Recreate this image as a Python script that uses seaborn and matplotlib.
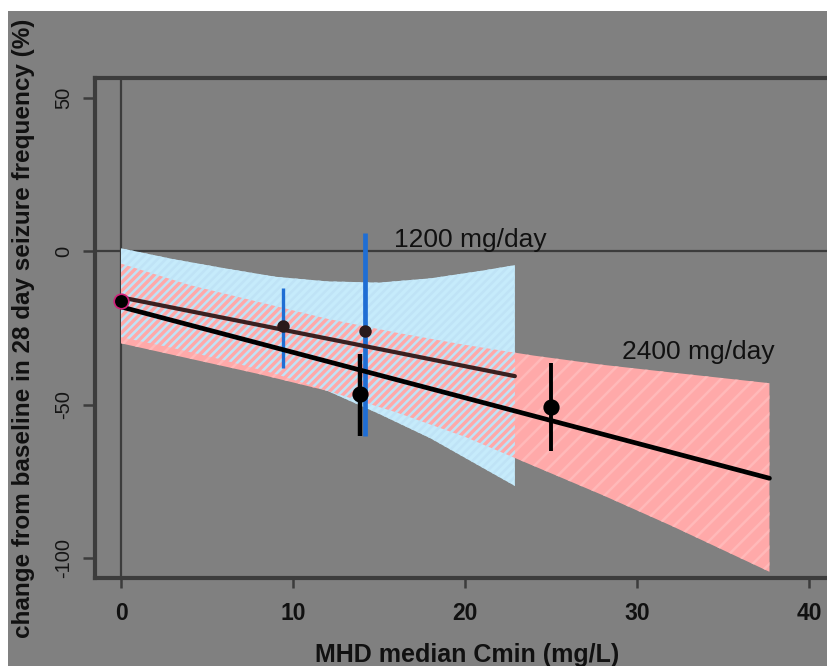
import numpy as np
import pandas as pd
import matplotlib
matplotlib.use("Agg")
import matplotlib.pyplot as plt
from matplotlib.patches import Rectangle
import seaborn as sns

# ---------------- data ----------------
# confidence bands
band1200_x = [0, 3, 6, 9, 12, 15, 18, 21, 22.9]
band1200_hi = [1, -2.5, -5.5, -8.3, -9.8, -10.2, -8.8, -6.3, -4.5]
band1200_lo = [-28, -31.5, -35.5, -40, -45.5, -53, -61, -70.5, -76.5]

band2400_x = [0, 4, 8, 12, 16, 20, 24, 28, 32, 37.7]
band2400_hi = [-4, -11, -16.5, -22, -26.5, -30.5, -34, -37, -39.5, -43]
band2400_lo = [-30, -35, -40, -45.5, -52.5, -60.5, -70, -79.5, -89.5, -104.5]

# fitted lines
line_group = ["1200 mg/day", "1200 mg/day", "2400 mg/day", "2400 mg/day"]
line_x = [0, 22.9, 0, 37.7]
line_y = [-15, -40.7, -18.1, -74]

# observed points with error bars
pt_group = ["placebo", "1200 mg/day", "1200 mg/day", "2400 mg/day", "2400 mg/day"]
pt_x = [0, 9.4, 14.2, 13.9, 25.0]
pt_y = [-16.3, -24.4, -26.0, -46.6, -50.6]
pt_lo = [np.nan, -38, -60.3, -60.3, -65]
pt_hi = [np.nan, -12, 5.9, -33.5, -36.5]

x_ticks = [0, 10, 20, 30, 40]
y_ticks = [50, 0, -50, -100]
labels = ["1200 mg/day", "2400 mg/day"]
label_x = [15.9, 29.1]
label_y = [3.7, -32.8]

# ---------------- style ----------------
GRAY = "#808080"
DARK = "#3c3c3c"
sns.set_theme(style="white", rc={"axes.facecolor": GRAY, "figure.facecolor": "white"})
plt.rcParams["font.family"] = ["Liberation Sans", "DejaVu Sans"]
plt.rcParams["hatch.linewidth"] = 1.8

W, H = 827, 666
fig = plt.figure(figsize=(W / 100, H / 100), dpi=100)
fig.patches.append(Rectangle((8 / W, 0), 1, 1 - 11 / H, transform=fig.transFigure,
                             facecolor=GRAY, edgecolor="none", zorder=-10))

ax_l, ax_r, ax_t, ax_b = 95, 840, 78, 578
ax = fig.add_axes([ax_l / W, 1 - ax_b / H, (ax_r - ax_l) / W, (ax_b - ax_t) / H])
ax.set_facecolor(GRAY)

# bands
BLUE_BAND = "#c6ebfb"
PINK_BAND = "#ffa9a9"
ax.fill_between(band1200_x, band1200_lo, band1200_hi, facecolor=BLUE_BAND,
                edgecolor="none", linewidth=0, zorder=1)
ax.fill_between(band2400_x, band2400_lo, band2400_hi, facecolor=PINK_BAND,
                edgecolor="#ffb9b9", hatch="//", linewidth=0, zorder=2)
ax.fill_between(band1200_x, band1200_lo, band1200_hi, facecolor="none",
                edgecolor="#bfe3f6", hatch="////", linewidth=0, zorder=3)

# reference lines
ax.axvline(0, color=DARK, lw=1.6, zorder=0.5)
ax.axhline(0, color=DARK, lw=1.6, zorder=0.5)

# fitted lines
df_lines = pd.DataFrame({"group": line_group, "x": line_x, "y": line_y})
sns.lineplot(data=df_lines, x="x", y="y", hue="group",
             palette={"1200 mg/day": "#3a2020", "2400 mg/day": "black"},
             linewidth=2.8, legend=False, ax=ax, zorder=5, estimator=None, sort=False)
for ln, w in zip(ax.get_lines()[-2:], [3.0, 3.4]):
    ln.set_linewidth(w)

# error bars
df_pts = pd.DataFrame({"group": pt_group, "x": pt_x, "y": pt_y, "lo": pt_lo, "hi": pt_hi})
bar_col = {"placebo": "black", "1200 mg/day": "#1f6ed4", "2400 mg/day": "black"}
bar_w = [0, 2.4, 3.4, 3.2, 2.8]
for i, r in df_pts.iterrows():
    if np.isnan(r["lo"]):
        continue
    ax.vlines(r["x"], r["lo"], r["hi"], color=bar_col[r["group"]], lw=bar_w[i],
              zorder=6 if r["group"] != "1200 mg/day" else 4)

# points
pt_face = {"placebo": "black", "1200 mg/day": "#2a1a1a", "2400 mg/day": "black"}
pt_edge = {"placebo": "#d0207a", "1200 mg/day": "#2a1a1a", "2400 mg/day": "black"}
pt_size = {"placebo": 110, "1200 mg/day": 60, "2400 mg/day": 110}
for g in ["placebo", "1200 mg/day", "2400 mg/day"]:
    sub = df_pts[df_pts["group"] == g]
    sns.scatterplot(data=sub, x="x", y="y", color=pt_face[g], edgecolor=pt_edge[g],
                    linewidth=1.2, s=pt_size[g], ax=ax, zorder=7, legend=False)

# text labels
for t, tx, ty in zip(labels, label_x, label_y):
    ax.text(tx, ty, t, fontsize=19, color="#111111", ha="left", va="center", zorder=8)

# axes
px_per_x = 17.2
px_per_y = 460 / 150
y0_px = 98 + 50 * px_per_y
ax.set_xlim((ax_l - 121) / px_per_x, (ax_r - 121) / px_per_x)
ax.set_ylim(-(ax_b - y0_px) / px_per_y, (y0_px - ax_t) / px_per_y)
ax.set_xticks(x_ticks)
ax.set_yticks(y_ticks)
ax.set_xticklabels([str(v) for v in x_ticks], fontsize=16.5, fontweight="bold", color="#111111")
ax.set_yticklabels([str(v) for v in y_ticks], fontsize=14.5, color="#151515",
                   rotation=90, va="center")
ax.tick_params(axis="x", direction="out", length=7, width=1.8, color=DARK, pad=10, bottom=True)
ax.tick_params(axis="y", direction="out", length=8.5, width=1.8, color=DARK, pad=7, left=True)
for s in ax.spines.values():
    s.set_color(DARK)
    s.set_linewidth(3)
    s.set_visible(True)

ax.set_xlabel("MHD median Cmin (mg/L)", fontsize=18, fontweight="bold", color="#111111")
ax.set_ylabel("change from baseline in 28 day seizure frequency (%)", fontsize=17.5,
              fontweight="bold", color="#111111")
ax.xaxis.set_label_coords((467 - ax_l) / (ax_r - ax_l), (ax_b - 655) / (ax_b - ax_t))
ax.yaxis.set_label_coords((24 - ax_l) / (ax_r - ax_l), 0.5)
ax.xaxis.label.set_va("center")
ax.yaxis.label.set_va("center")

fig.savefig("out.png", dpi=100)
